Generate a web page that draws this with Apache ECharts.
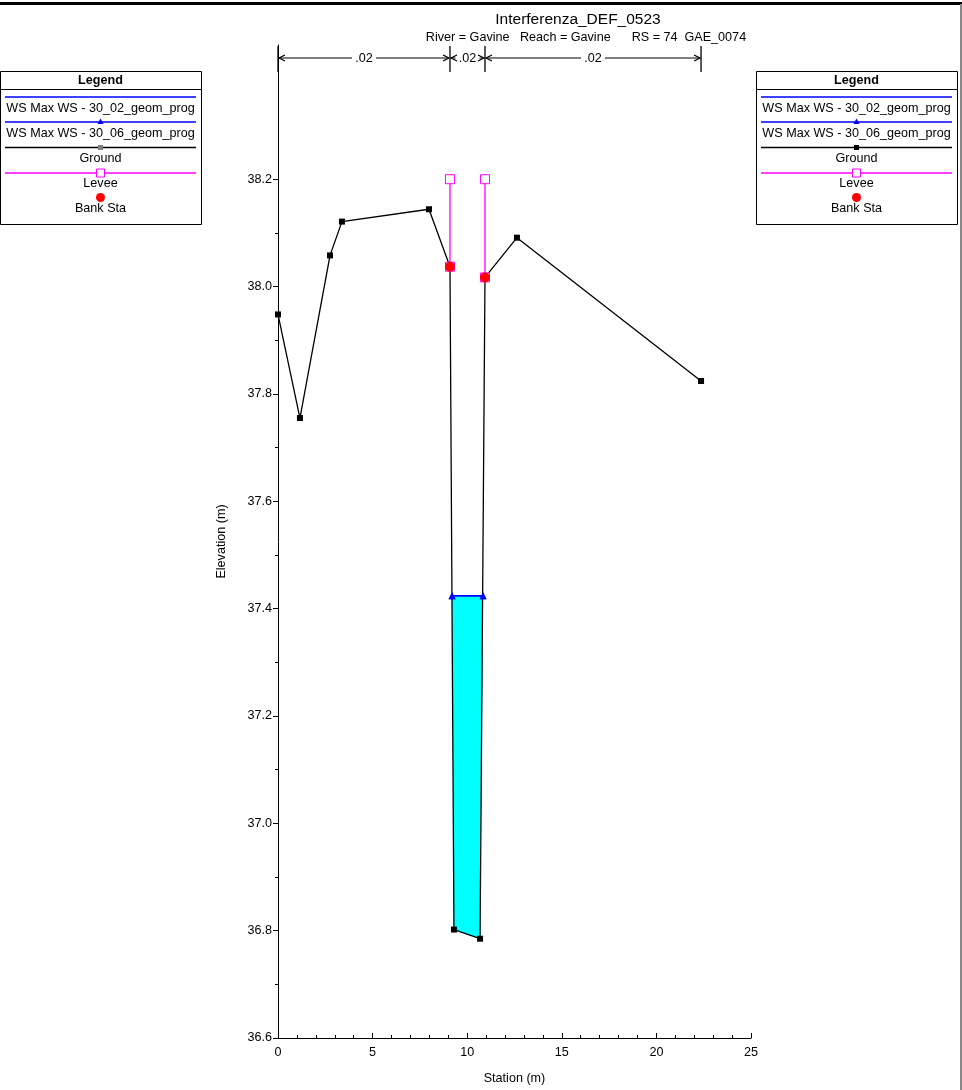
<!DOCTYPE html>
<html>
<head>
<meta charset="utf-8">
<script src="https://cdn.jsdelivr.net/npm/echarts@6/dist/echarts.min.js"></script>
<style>
html,body{margin:0;padding:0;background:#fff;}
#chart{width:962px;height:1090px;}
</style>
</head>
<body>
<div id="chart"></div>
<script>
// ---- data ----
const stations   = [0, 1.16, 2.75, 3.38, 7.98, 9.09, 9.30, 10.68, 10.94, 12.63, 22.36];
const groundElev = [37.948, 37.755, 38.058, 38.121, 38.144, 38.037, 36.802, 36.785, 38.017, 38.091, 37.824];
const bankSta  = [9.09, 10.94];
const bankElev = [38.037, 38.017];
const leveeSta = [9.09, 10.94];
const leveeTop = [38.2, 38.2];
const wsSta  = [9.20, 10.84];
const wsElev = [37.424, 37.424];
const nBreaks = [0, 9.09, 10.94, 22.36];
const nValues = ['.02', '.02', '.02'];
const yTickLabels = [36.6, 36.8, 37.0, 37.2, 37.4, 37.6, 37.8, 38.0, 38.2];
const yMinorTicks = [36.7, 36.9, 37.1, 37.3, 37.5, 37.7, 37.9, 38.1];
const xTicks = [0, 5, 10, 15, 20, 25];
const title = 'Interferenza_DEF_0523';
const subtitle = 'River = Gavine   Reach = Gavine      RS = 74  GAE_0074';
const legendNames = ['WS Max WS - 30_02_geom_prog', 'WS Max WS - 30_06_geom_prog', 'Ground', 'Levee', 'Bank Sta'];

const FONT = 'Liberation Sans, Arial, sans-serif';
const FS = 12.6;
const chart = echarts.init(document.getElementById('chart'), null, {renderer: 'canvas'});

const groundData = stations.map((s, i) => [s, groundElev[i]]);
const wsData = wsSta.map((s, i) => [s, wsElev[i]]);
const bankData = bankSta.map((s, i) => [s, bankElev[i]]);
// channel fill polygon: water surface ends + ground points below it
const fillPoly = [[wsSta[0], wsElev[0]], [wsSta[1], wsElev[1]], [stations[7], groundElev[7]], [stations[6], groundElev[6]]];

const series = [
  {
    type: 'custom', name: 'fill', z: 1, silent: true,
    data: [0],
    renderItem: function (params, api) {
      const pts = fillPoly.map(p => api.coord(p));
      return {type: 'polygon', shape: {points: pts}, style: {fill: '#00ffff', stroke: null}};
    }
  },
  {
    type: 'line', name: legendNames[2], data: groundData, z: 3,
    lineStyle: {color: '#000', width: 1.3}, itemStyle: {color: '#000'},
    symbol: 'rect', symbolSize: 6, showSymbol: true, animation: false
  }
];
leveeSta.forEach((s, i) => {
  series.push({
    type: 'line', name: legendNames[3], z: 4,
    data: [[s, bankElev[i]], [s, leveeTop[i]]],
    lineStyle: {color: '#ff00ff', width: 1.3},
    itemStyle: {color: '#fff', borderColor: '#ff00ff', borderWidth: 1},
    symbol: 'rect', symbolSize: 9, showSymbol: true, animation: false
  });
});
series.push({
  type: 'line', name: legendNames[0], data: wsData, z: 5,
  lineStyle: {color: '#0000ff', width: 1.5}, itemStyle: {color: '#0000ff'},
  symbol: 'triangle', symbolSize: 7, animation: false
});
series.push({
  type: 'line', name: legendNames[1], data: wsData, z: 5,
  lineStyle: {color: '#0000ff', width: 1.5}, itemStyle: {color: '#0000ff'},
  symbol: 'triangle', symbolSize: 7, animation: false
});
series.push({
  type: 'scatter', name: legendNames[4], data: bankData, z: 10,
  itemStyle: {color: '#ff0000', opacity: 1}, symbol: 'circle', symbolSize: 10
});

chart.setOption({
  animation: false,
  backgroundColor: '#fff',
  textStyle: {fontFamily: FONT},
  title: [
    {text: title, left: 578, top: 12, padding: 0, textAlign: 'center', textStyle: {fontFamily: FONT, fontSize: 15.5, fontWeight: 'normal', color: '#000'}},
    {text: subtitle, left: 586, top: 31, padding: 0, textAlign: 'center', textStyle: {fontFamily: FONT, fontSize: 12.6, fontWeight: 'normal', color: '#000'}}
  ],
  grid: {left: 278, right: 211, top: 45, bottom: 52, containLabel: false},
  xAxis: {
    type: 'value', min: 0, max: 25, interval: 5,
    name: 'Station (m)', nameLocation: 'middle', nameGap: 34,
    nameTextStyle: {fontFamily: FONT, fontSize: FS, color: '#000'},
    axisLine: {show: true, onZero: false, lineStyle: {color: '#000', width: 1}},
    axisTick: {show: true, inside: true, length: 5, lineStyle: {color: '#000'}},
    minorTick: {show: true, splitNumber: 5, length: 3, lineStyle: {color: '#000'}},
    axisLabel: {fontFamily: FONT, fontSize: FS, color: '#000', margin: 8, customValues: xTicks},
    splitLine: {show: false}
  },
  yAxis: [
    {
      type: 'value', min: 36.6, max: 38.45,
      name: 'Elevation (m)', nameLocation: 'middle', nameGap: 50, nameRotate: 90,
      nameTextStyle: {fontFamily: FONT, fontSize: FS, color: '#000'},
      axisLine: {show: true, onZero: false, lineStyle: {color: '#000', width: 1}},
      axisTick: {show: true, inside: false, length: 5, customValues: yTickLabels, lineStyle: {color: '#000'}},
      axisLabel: {fontFamily: FONT, fontSize: FS, color: '#000', margin: 6, customValues: yTickLabels,
        formatter: v => Number(v).toFixed(1)},
      splitLine: {show: false}
    },
    {
      type: 'value', min: 36.6, max: 38.45, position: 'left',
      axisLine: {show: false},
      axisTick: {show: true, inside: false, length: 3, customValues: yMinorTicks, lineStyle: {color: '#000'}},
      axisLabel: {show: false},
      splitLine: {show: false}
    }
  ],
  series: series
});

// ---- graphics: n-value bar, legends, frame ----
function px(x, y) { return chart.convertToPixel({gridIndex: 0}, [x, y]); }
const g = [];
// top border & right border
g.push({type: 'rect', shape: {x: 0, y: 2, width: 962, height: 3}, style: {fill: '#000'}, z: 10});
g.push({type: 'rect', shape: {x: 960, y: 4, width: 2, height: 1086}, style: {fill: '#888'}, z: 10});

// Manning n bar
const barY = 58;
const bx = nBreaks.map(s => px(s, 38)[0]);
bx.forEach(x => {
  g.push({type: 'line', shape: {x1: x, y1: 46, x2: x, y2: 72}, style: {stroke: '#000', lineWidth: 1.3}, z: 10});
});
for (let i = 0; i < nValues.length; i++) {
  const x1 = bx[i], x2 = bx[i + 1], mid = (x1 + x2) / 2;
  const hw = 12;
  const la = x1 + 1, rb = x2 - 1;
  if (mid - hw > la) g.push({type: 'line', shape: {x1: la, y1: barY, x2: mid - hw, y2: barY}, style: {stroke: '#000', lineWidth: 1}, z: 10});
  if (rb > mid + hw) g.push({type: 'line', shape: {x1: mid + hw, y1: barY, x2: rb, y2: barY}, style: {stroke: '#000', lineWidth: 1}, z: 10});
  g.push({type: 'polyline', shape: {points: [[la + 6, barY - 3], [la, barY], [la + 6, barY + 3]]}, style: {stroke: '#000', fill: null, lineWidth: 1.2}, z: 10});
  g.push({type: 'polyline', shape: {points: [[rb - 6, barY - 3], [rb, barY], [rb - 6, barY + 3]]}, style: {stroke: '#000', fill: null, lineWidth: 1.2}, z: 10});
  g.push({type: 'text', x: mid, y: barY + 1, style: {text: nValues[i], font: FS + 'px ' + FONT, fill: '#000', align: 'center', verticalAlign: 'middle'}, z: 11});
}

// legends
function legendBox(x0, groundMarkerColor) {
  const w = 201, y0 = 71, h = 153, cx = x0 + w / 2;
  const L = x0 + 5, R = x0 + w - 5;
  const items = [];
  const f = FS + 'px ' + FONT;
  items.push({type: 'rect', shape: {x: x0 + 0.5, y: y0 + 0.5, width: w, height: h}, style: {fill: '#fff', stroke: '#000', lineWidth: 1}, z: 20});
  items.push({type: 'text', x: cx, y: y0 + 10, style: {text: 'Legend', font: 'bold ' + f, fill: '#000', align: 'center', verticalAlign: 'middle'}, z: 21});
  items.push({type: 'line', shape: {x1: x0, y1: y0 + 18.5, x2: x0 + w, y2: y0 + 18.5}, style: {stroke: '#000', lineWidth: 1}, z: 21});
  // WS 30_02
  items.push({type: 'line', shape: {x1: L, y1: 97, x2: R, y2: 97}, style: {stroke: '#0000ff', lineWidth: 1.3}, z: 21});
  items.push({type: 'text', x: cx, y: 108.5, style: {text: legendNames[0], font: f, fill: '#000', align: 'center', verticalAlign: 'middle'}, z: 21});
  // WS 30_06
  items.push({type: 'line', shape: {x1: L, y1: 122, x2: R, y2: 122}, style: {stroke: '#0000ff', lineWidth: 1.3}, z: 21});
  items.push({type: 'polygon', shape: {points: [[cx - 3, 124], [cx + 3, 124], [cx, 118.5]]}, style: {fill: '#0000ff'}, z: 22});
  items.push({type: 'text', x: cx, y: 133.5, style: {text: legendNames[1], font: f, fill: '#000', align: 'center', verticalAlign: 'middle'}, z: 21});
  // Ground
  items.push({type: 'line', shape: {x1: L, y1: 147.5, x2: R, y2: 147.5}, style: {stroke: '#000', lineWidth: 1.3}, z: 21});
  items.push({type: 'rect', shape: {x: cx - 2.5, y: 145, width: 5, height: 5}, style: {fill: groundMarkerColor}, z: 22});
  items.push({type: 'text', x: cx, y: 158.5, style: {text: legendNames[2], font: f, fill: '#000', align: 'center', verticalAlign: 'middle'}, z: 21});
  // Levee
  items.push({type: 'line', shape: {x1: L, y1: 173, x2: R, y2: 173}, style: {stroke: '#ff00ff', lineWidth: 1.3}, z: 21});
  items.push({type: 'rect', shape: {x: cx - 4, y: 169, width: 8, height: 8}, style: {fill: '#fff', stroke: '#ff00ff', lineWidth: 1}, z: 22});
  items.push({type: 'text', x: cx, y: 183.5, style: {text: legendNames[3], font: f, fill: '#000', align: 'center', verticalAlign: 'middle'}, z: 21});
  // Bank Sta
  items.push({type: 'circle', shape: {cx: cx, cy: 197.5, r: 4.5}, style: {fill: '#ff0000'}, z: 22});
  items.push({type: 'text', x: cx, y: 208.5, style: {text: legendNames[4], font: f, fill: '#000', align: 'center', verticalAlign: 'middle'}, z: 21});
  return items;
}
legendBox(0, '#808080').forEach(e => g.push(e));
legendBox(756, '#000').forEach(e => g.push(e));

chart.setOption({graphic: {elements: g}});
</script>
</body>
</html>
